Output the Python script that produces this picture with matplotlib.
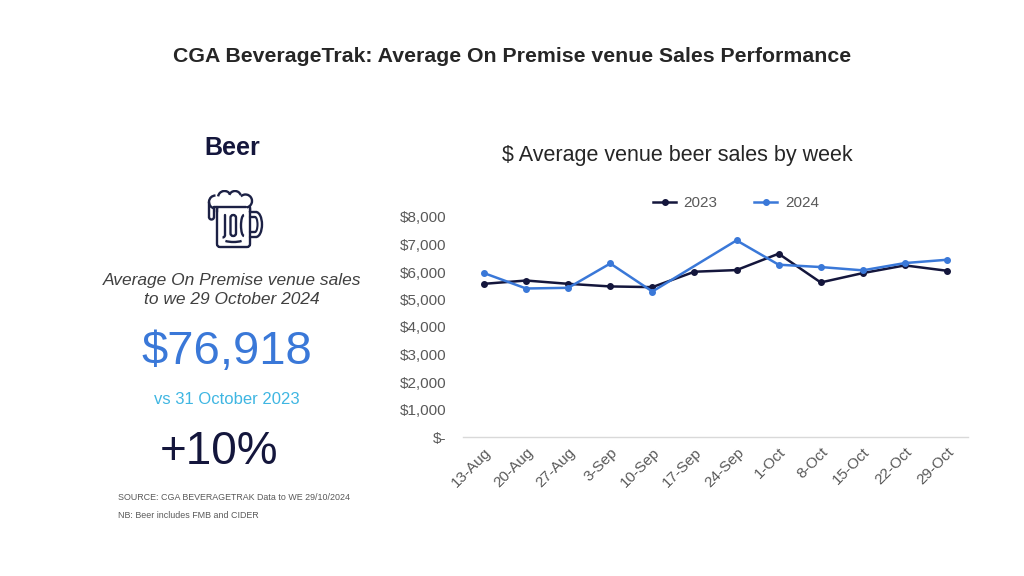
import numpy as np
import matplotlib
matplotlib.use("Agg")
import matplotlib.pyplot as plt
from matplotlib.patches import Arc, FancyBboxPatch
from matplotlib.ticker import FuncFormatter

plt.rcParams["font.family"] = ["Liberation Sans", "DejaVu Sans"]

# Weekly average venue beer sales ($)
WEEKS = ["13-Aug", "20-Aug", "27-Aug", "3-Sep", "10-Sep", "17-Sep",
         "24-Sep", "1-Oct", "8-Oct", "15-Oct", "22-Oct", "29-Oct"]
SALES_2023 = [5570, 5690, 5570, 5475, 5450, 6010,
              6070, 6665, 5620, 5960, 6240, 6045]
# 17-Sep 2024 has no value in the source; the line is joined across it
SALES_2024 = [5960, 5400, 5425, 6310, 5290, np.nan,
              7150, 6265, 6180, 6060, 6325, 6445]

HEADLINE_VALUE = "$76,918"
HEADLINE_CHANGE = "+10%"

NAVY = "#14163c"
BLUE = "#3a78d8"
CYAN = "#3fb6e2"
GREY = "#595959"
ICON = "#1c2145"

fig = plt.figure(figsize=(10.24, 5.76), dpi=100)
fig.patch.set_facecolor("white")


def fx(px):
    return px / 1024


def fy(py):
    return 1 - py / 576


# --- titles ---
fig.text(fx(512), fy(56), "CGA BeverageTrak: Average On Premise venue Sales Performance",
         ha="center", va="center", fontsize=15.3, fontweight="bold", color="#262626")
fig.text(fx(677), fy(155), "$ Average venue beer sales by week",
         ha="center", va="center", fontsize=15.5, color="#262626")

# --- left panel ---
fig.text(fx(232), fy(148), "Beer", ha="center", va="center",
         fontsize=18, fontweight="bold", color=NAVY)
fig.text(fx(232), fy(290), "Average On Premise venue sales\nto we 29 October 2024",
         ha="center", va="center", fontsize=12.5, style="italic",
         color="#404040", linespacing=1.25)
fig.text(fx(227), fy(352), HEADLINE_VALUE, ha="center", va="center",
         fontsize=34, color=BLUE)
fig.text(fx(227), fy(400), "vs 31 October 2023", ha="center", va="center",
         fontsize=12, color=CYAN)
fig.text(fx(219), fy(452), HEADLINE_CHANGE, ha="center", va="center",
         fontsize=33, color=NAVY)
fig.text(fx(118), fy(497), "SOURCE: CGA BEVERAGETRAK Data to WE 29/10/2024",
         ha="left", va="center", fontsize=6.4, color=GREY)
fig.text(fx(118), fy(516), "NB: Beer includes FMB and CIDER",
         ha="left", va="center", fontsize=6.4, color=GREY)

# --- beer mug icon (local pixel units, y up) ---
icon = fig.add_axes([fx(204), fy(252), fx(62), 62 / 576])
icon.set_xlim(0, 62)
icon.set_ylim(0, 62)
icon.axis("off")
lw = 1.7
ic = dict(color=ICON, lw=lw, solid_capstyle="round")


def arc(cx, cy, w, h, t1, t2, width=lw, z=2):
    icon.add_patch(Arc((cx, cy), w, h, theta1=t1, theta2=t2, color=ICON, lw=width, zorder=z))


# mug body
icon.add_patch(FancyBboxPatch((13, 5), 33, 41, boxstyle="round,pad=0,rounding_size=3",
                              fill=False, ec=ICON, lw=lw))
# handle
icon.plot([46, 52], [40, 40], **ic)
arc(52, 27.5, 12, 25, -90, 90)
icon.plot([46, 52], [15, 15], **ic)
arc(51, 27.5, 5, 15, -90, 90, 1.5)
icon.plot([46, 51], [20, 20], **ic)
icon.plot([46, 51], [35, 35], **ic)
# foam (white cover over the mug top, then bumps)
icon.add_patch(FancyBboxPatch((6, 45), 43, 12, boxstyle="round,pad=0,rounding_size=2",
                              fc="white", ec="none", zorder=3))
icon.add_patch(FancyBboxPatch((14.5, 41), 30, 6, boxstyle="square,pad=0",
                              fc="white", ec="none", zorder=3))
arc(11.5, 50, 13, 13, 90, 260, z=4)
arc(20.5, 54.5, 13, 13, 30, 170, z=4)
arc(31, 55, 12, 12, 20, 160, z=4)
arc(41.5, 51, 13, 13, -80, 135, z=4)
icon.plot([5, 5], [50, 35], zorder=4, **ic)
arc(7.5, 35, 5, 5, 180, 360, z=4)
icon.plot([10, 10], [35, 45], zorder=4, **ic)
icon.plot([10, 42], [45, 45], zorder=4, **ic)
icon.plot([13, 13], [45, 40], zorder=4, **ic)
icon.plot([46, 46], [45, 40], zorder=4, **ic)
# inner details
icon.plot([21, 21], [37, 17], **ic)
arc(18.5, 17, 5, 5, 270, 360)
icon.add_patch(FancyBboxPatch((26.5, 16), 5.5, 21, boxstyle="round,pad=0,rounding_size=2.7",
                              fill=False, ec=ICON, lw=lw))
arc(40, 26.5, 6, 21, 90, 270)
arc(29.5, 14, 24, 8, 200, 340)

# --- line chart ---
ax = fig.add_axes([fx(463), fy(437), fx(968 - 463), (437 - 217) / 576])
x = np.arange(len(WEEKS))
s23 = np.array(SALES_2023, dtype=float)
s24 = np.array(SALES_2024, dtype=float)
ok23 = ~np.isnan(s23)
ok24 = ~np.isnan(s24)
ax.plot(x[ok23], s23[ok23], color=NAVY, lw=1.8, marker="o", markersize=4, label="2023")
ax.plot(x[ok24], s24[ok24], color=BLUE, lw=1.8, marker="o", markersize=4, label="2024")

ax.set_xlim(-0.5, len(WEEKS) - 0.5)
ax.set_ylim(0, 8000)
ax.set_yticks(np.arange(0, 8001, 1000))
ax.yaxis.set_major_formatter(FuncFormatter(lambda v, p: "$-" if v == 0 else f"${v:,.0f}"))
ax.set_xticks(x)
ax.set_xticklabels(WEEKS, rotation=45, ha="right", rotation_mode="anchor")
ax.tick_params(axis="both", length=0, labelsize=11, colors=GREY)
ax.tick_params(axis="y", pad=12)
ax.tick_params(axis="x", pad=6)
for side in ["top", "right", "left"]:
    ax.spines[side].set_visible(False)
ax.spines["bottom"].set_color("#d9d9d9")
ax.spines["bottom"].set_linewidth(1)

fig.legend(loc="center", bbox_to_anchor=(fx(736), fy(203)), ncol=2, frameon=False,
           fontsize=11, handlelength=1.5, handletextpad=0.5, columnspacing=2.4,
           labelcolor=GREY)

fig.savefig("out.png", dpi=100, facecolor="white")
